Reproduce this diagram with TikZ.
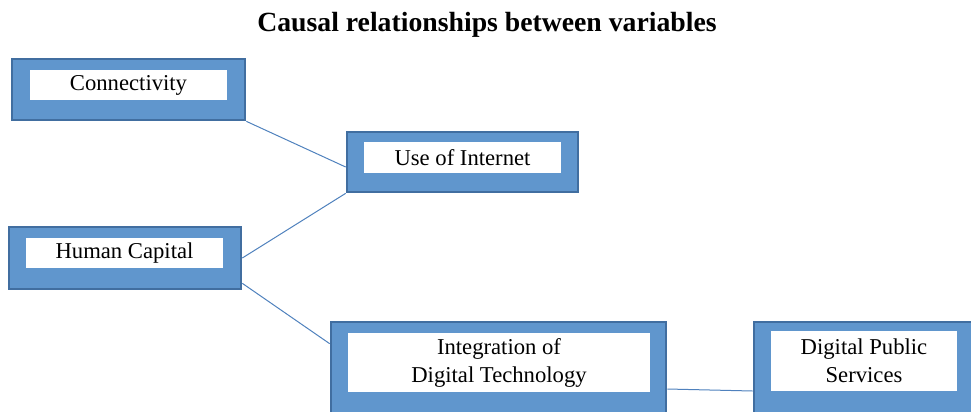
\documentclass[tikz,border=0pt]{standalone}
\usepackage{fontspec}
\setmainfont{Liberation Serif}
\usetikzlibrary{calc}

\definecolor{boxfill}{RGB}{96,150,205}
\definecolor{boxedge}{RGB}{65,110,160}
\definecolor{linkblue}{RGB}{79,129,189}

\begin{document}
\begin{tikzpicture}[
        x=0.75pt, y=-0.75pt,
        box/.style={draw=boxedge, line width=2pt, fill=boxfill, inner sep=0pt},
        label/.style={fill=white, inner sep=0pt, align=center,
            font=\fontsize{17}{21}\selectfont},
        link/.style={draw=linkblue, line width=0.75pt},
    ]
    \clip (0, 0) rectangle (971, 411);

    \node[font=\fontsize{20.8}{24}\selectfont\bfseries] (title) at (487, 25)
        {Causal relationships between variables};

    % outer blue boxes
    \node[box, minimum width=174.75pt, minimum height=45.75pt] (conn) at (128.5, 89.5) {};
    \node[box, minimum width=173.25pt, minimum height=45pt] (use) at (462.5, 162) {};
    \node[box, minimum width=174pt, minimum height=46.5pt] (hc) at (125, 258) {};
    \node[box, minimum width=251.25pt, minimum height=72pt] (integ) at (498.5, 370) {};
    \node[box, minimum width=174pt, minimum height=72pt] (dps) at (870, 370) {};

    % white labels
    \node[label, minimum width=147.75pt, minimum height=22.5pt] (connlbl) at (128.5, 85) {Connectivity};
    \node[label, minimum width=147.75pt, minimum height=23.25pt] (uselbl) at (462.5, 157.5) {Use of Internet};
    \node[label, minimum width=147.75pt, minimum height=22.5pt] (hclbl) at (124.5, 253) {Human Capital};
    \node[label, minimum width=226.5pt, minimum height=44.25pt] (integlbl) at (499, 362.5)
        {Integration of\\Digital Technology};
    \node[label, minimum width=139.5pt, minimum height=45pt] (dpslbl) at (864, 361)
        {Digital Public\\Services};

    % links
    \draw[link] (conn.south east) -- ($(use.west)+(0, 5)$);
    \draw[link] (hc.east) -- (use.south west);
    \draw[link] ($(hc.south east)+(0, -7)$) -- ($(integ.north west)+(0, 23)$);
    \draw[link] ($(integ.east)+(0, 19)$) -- ($(dps.west)+(0, 21)$);
\end{tikzpicture}
\end{document}
